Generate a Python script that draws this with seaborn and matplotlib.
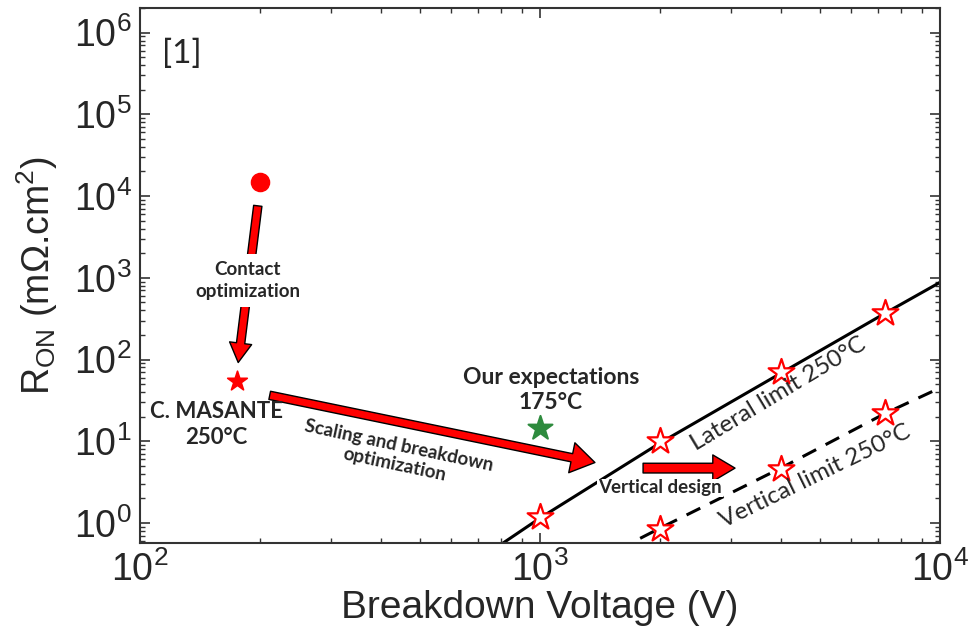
import numpy as np
import matplotlib
matplotlib.use("Agg")
import matplotlib.pyplot as plt
from matplotlib.ticker import LogLocator, NullFormatter
import seaborn as sns

# Lateral limit 250°C (solid line) and its reference points
lateral_v = [800, 1000, 2000, 4000, 7300, 10000]
lateral_r = [0.55, 1.15, 9.6, 68, 370, 880]
lateral_star_v = [1000, 2000, 4000, 7300]
lateral_star_r = [1.2, 10, 70, 375]

# Vertical limit 250°C (dashed line) and its reference points
vertical_v = [1780, 2000, 4000, 7300, 10000]
vertical_r = [0.65, 0.87, 4.7, 22, 45]
vertical_star_v = [2000, 4000, 7300]
vertical_star_r = [0.85, 4.6, 22]

# Individual devices
initial_v, initial_r = [200], [15000]        # before contact optimization
masante_v, masante_r = [175], [54]            # C. MASANTE 250°C
expect_v, expect_r = [1000], [14.5]           # our expectations 175°C

ANNOT_FONT = ["Lato", "DejaVu Sans"]


def red_arrow(ax, start, end, tail, head_w, head_l):
    """Red block arrow with black outline, sizes in points."""
    style = f"simple,tail_width={tail},head_width={head_w},head_length={head_l}"
    ax.annotate("", xy=end, xytext=start, xycoords="data", textcoords="data",
                arrowprops=dict(arrowstyle=style, fc="red", ec="black", lw=1.0,
                                mutation_scale=1, shrinkA=0, shrinkB=0),
                zorder=4)


def main():
    sns.set_style("ticks")
    plt.rcParams["font.family"] = ["Liberation Sans", "DejaVu Sans"]
    plt.rcParams["mathtext.default"] = "regular"

    fig = plt.figure(figsize=(9.71, 6.43), dpi=100)
    ax = fig.add_axes([140 / 971, 1 - 543 / 643, 800 / 971, 535 / 643])
    ax.set(xscale="log", yscale="log")

    # limit lines
    sns.lineplot(x=lateral_v, y=lateral_r, ax=ax, color="black", lw=2.2,
                 estimator=None, sort=False, zorder=2)
    sns.lineplot(x=vertical_v, y=vertical_r, ax=ax, color="black", lw=2.2,
                 linestyle=(0, (5, 3.5)), estimator=None, sort=False, zorder=2)

    # hollow stars on the limits
    sns.scatterplot(x=lateral_star_v + vertical_star_v,
                    y=lateral_star_r + vertical_star_r, ax=ax, marker="*",
                    s=380, facecolor="white", edgecolor="red", linewidth=1.6,
                    zorder=3)

    # devices
    sns.scatterplot(x=initial_v, y=initial_r, ax=ax, marker="o", s=170,
                    color="red", edgecolor="red", zorder=3)
    sns.scatterplot(x=masante_v, y=masante_r, ax=ax, marker="*", s=220,
                    color="red", edgecolor="red", zorder=3)
    sns.scatterplot(x=expect_v, y=expect_r, ax=ax, marker="*", s=330,
                    color="#2e8b3e", edgecolor="#2e8b3e", zorder=3)

    # arrows
    red_arrow(ax, (197, 7600), (176, 92), tail=6, head_w=16, head_l=14)
    red_arrow(ax, (211, 36.5), (1372, 5.5), tail=6, head_w=22, head_l=17)
    red_arrow(ax, (1810, 4.7), (3073, 4.7), tail=7, head_w=19, head_l=16)

    # annotations
    ax.text(0.027, 0.914, "[1]", transform=ax.transAxes, fontsize=24,
            family=ANNOT_FONT, ha="left", va="center")
    ax.text(186, 920, "Contact\noptimization", fontsize=13.5, fontweight="bold",
            family=ANNOT_FONT, ha="center", va="center", linespacing=1.35,
            bbox=dict(fc="white", ec="none", pad=5), zorder=5)
    ax.text(155, 16, "C. MASANTE\n250°C", fontsize=16, fontweight="bold",
            family=ANNOT_FONT, ha="center", va="center", linespacing=1.25,
            zorder=5)
    ax.text(1065, 42, "Our expectations\n175°C", fontsize=16.5, fontweight="bold",
            family=ANNOT_FONT, ha="center", va="center", linespacing=1.25,
            zorder=5)
    ax.text(439, 6.8, "Scaling and breakdown\noptimization", fontsize=13.5,
            fontweight="bold", family=ANNOT_FONT, ha="center", va="center",
            rotation=-12, linespacing=1.2, zorder=5)
    ax.text(1995, 2.7, "Vertical design", fontsize=13.5, fontweight="bold",
            family=ANNOT_FONT, ha="center", va="center",
            bbox=dict(fc="white", ec="none", pad=0.5), zorder=5)
    ax.text(3950, 38, "Lateral limit 250°C", fontsize=17.5,
            family=ANNOT_FONT, ha="center", va="center", rotation=31, zorder=5)
    ax.text(4870, 3.74, "Vertical limit 250°C", fontsize=17.5,
            family=ANNOT_FONT, ha="center", va="center", rotation=26, zorder=5)

    # axes
    ax.set_xlim(100, 10000)
    ax.set_ylim(0.57, 2.0e6)
    ax.yaxis.set_major_locator(LogLocator(base=10, numticks=20))
    for axis in (ax.xaxis, ax.yaxis):
        axis.set_minor_locator(LogLocator(base=10, subs=np.arange(2, 10), numticks=100))
        axis.set_minor_formatter(NullFormatter())

    ax.tick_params(which="both", direction="in", top=True, right=True,
                   color="#333333")
    ax.tick_params(which="major", length=7, width=1.2, labelsize=27, pad=6)
    ax.tick_params(which="minor", length=3.5, width=1.0)
    for spine in ax.spines.values():
        spine.set_color("#333333")
        spine.set_linewidth(1.5)

    ax.set_xlabel("Breakdown Voltage (V)", fontsize=28, labelpad=1)
    ax.set_ylabel("R$_{ON}$ (mΩ.cm$^{2}$)", fontsize=27)
    ax.yaxis.set_label_coords(-0.10, 0.5)

    fig.savefig("out.png", dpi=100)
    plt.close(fig)


if __name__ == "__main__":
    main()
